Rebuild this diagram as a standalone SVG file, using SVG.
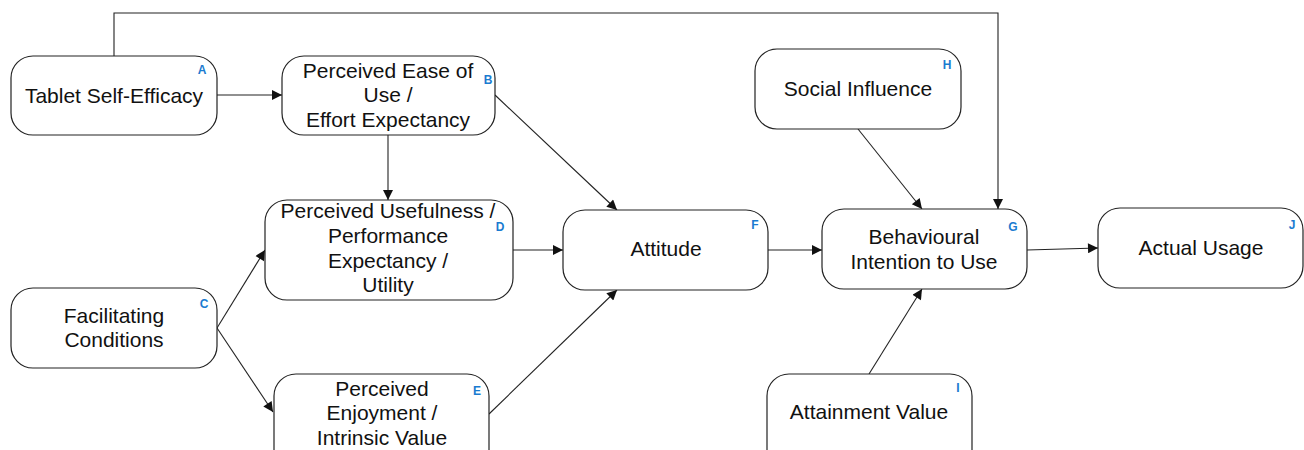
<svg xmlns="http://www.w3.org/2000/svg" width="1304" height="450" viewBox="0 0 1304 450">
<style>
.box{fill:#fff;stroke:#222;stroke-width:1.2}
.t{font-family:"Liberation Sans",Arial,sans-serif;font-size:21px;fill:#111;text-anchor:middle}
.l{font-family:"Liberation Sans",Arial,sans-serif;font-size:12px;font-weight:bold;fill:#1a7bd0;text-anchor:middle}
.c{fill:none;stroke:#222;stroke-width:1.1}
</style>
<defs>
<marker id="ah" viewBox="0 0 10 10" refX="10" refY="5" markerWidth="12" markerHeight="10" markerUnits="userSpaceOnUse" orient="auto">
<path d="M0,0 L10,5 L0,10 Z" fill="#111"/>
</marker>
</defs>
<rect width="1304" height="450" fill="#fff"/>
<g id="connectors">
<path class="c" d="M114,56 V13 H998 V209" marker-end="url(#ah)"/>
<line class="c" x1="217" y1="95" x2="282" y2="95" marker-end="url(#ah)"/>
<line class="c" x1="388" y1="135" x2="388" y2="200" marker-end="url(#ah)"/>
<line class="c" x1="495" y1="95" x2="617" y2="210" marker-end="url(#ah)"/>
<line class="c" x1="217" y1="328" x2="265" y2="250" marker-end="url(#ah)"/>
<line class="c" x1="217" y1="328" x2="273" y2="412" marker-end="url(#ah)"/>
<line class="c" x1="513" y1="250" x2="563" y2="250" marker-end="url(#ah)"/>
<line class="c" x1="489" y1="414" x2="617" y2="290" marker-end="url(#ah)"/>
<line class="c" x1="768" y1="250" x2="822" y2="250" marker-end="url(#ah)"/>
<line class="c" x1="858" y1="129" x2="922" y2="209" marker-end="url(#ah)"/>
<line class="c" x1="869" y1="374" x2="922" y2="289" marker-end="url(#ah)"/>
<line class="c" x1="1027" y1="250" x2="1098" y2="248" marker-end="url(#ah)"/>
</g>
<g id="A">
<rect class="box" x="11" y="56" width="206" height="79" rx="22"/>
<text class="t" x="114" y="103">Tablet Self-Efficacy</text>
<text class="l" x="202" y="74">A</text>
</g>
<g id="B">
<rect class="box" x="282" y="56" width="213" height="79" rx="22"/>
<text class="t" x="388" y="78">Perceived Ease of</text>
<text class="t" x="388" y="102">Use /</text>
<text class="t" x="388" y="127">Effort Expectancy</text>
<text class="l" x="488" y="84">B</text>
</g>
<g id="C">
<rect class="box" x="11" y="288" width="206" height="80" rx="22"/>
<text class="t" x="114" y="323">Facilitating</text>
<text class="t" x="114" y="347">Conditions</text>
<text class="l" x="204" y="308">C</text>
</g>
<g id="D">
<rect class="box" x="265" y="200" width="248" height="100" rx="22"/>
<text class="t" x="388" y="218">Perceived Usefulness /</text>
<text class="t" x="388" y="243">Performance</text>
<text class="t" x="388" y="268">Expectancy /</text>
<text class="t" x="388" y="292">Utility</text>
<text class="l" x="500" y="231">D</text>
</g>
<g id="E">
<rect class="box" x="274" y="374" width="215" height="100" rx="22"/>
<text class="t" x="382" y="396">Perceived</text>
<text class="t" x="382" y="420">Enjoyment /</text>
<text class="t" x="382" y="445">Intrinsic Value</text>
<text class="l" x="477" y="395">E</text>
</g>
<g id="F">
<rect class="box" x="563" y="210" width="205" height="80" rx="22"/>
<text class="t" x="666" y="256">Attitude</text>
<text class="l" x="755" y="229">F</text>
</g>
<g id="G">
<rect class="box" x="822" y="209" width="205" height="80" rx="22"/>
<text class="t" x="924" y="244">Behavioural</text>
<text class="t" x="924" y="269">Intention to Use</text>
<text class="l" x="1013" y="231">G</text>
</g>
<g id="H">
<rect class="box" x="755" y="49" width="206" height="80" rx="22"/>
<text class="t" x="858" y="96">Social Influence</text>
<text class="l" x="947" y="69">H</text>
</g>
<g id="I">
<rect class="box" x="767" y="374" width="205" height="100" rx="22"/>
<text class="t" x="869" y="419">Attainment Value</text>
<text class="l" x="958" y="392">I</text>
</g>
<g id="J">
<rect class="box" x="1098" y="208" width="205" height="80" rx="22"/>
<text class="t" x="1201" y="255">Actual Usage</text>
<text class="l" x="1292" y="229">J</text>
</g>
</svg>
